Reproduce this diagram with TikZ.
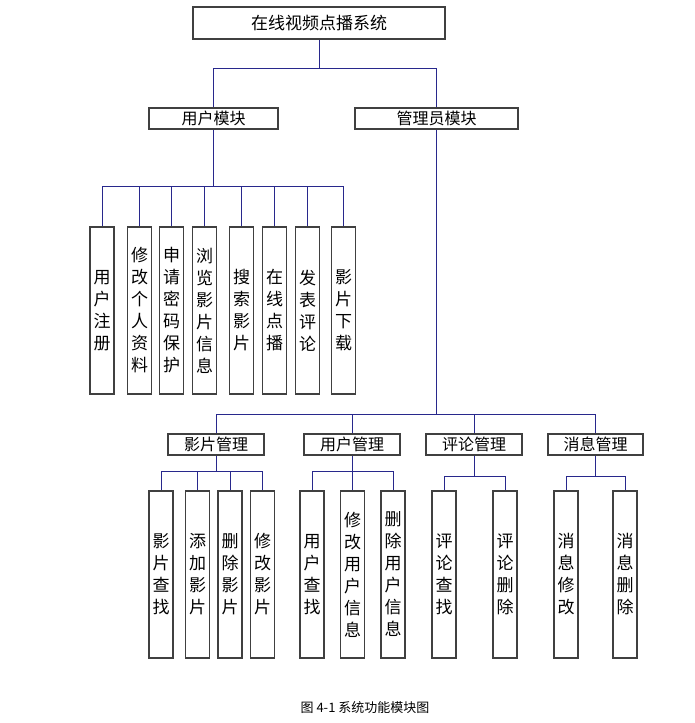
\documentclass[tikz,border=0pt]{standalone}
\usepackage{fontspec}
\setmainfont{Noto Sans CJK SC}
\usepackage{tikz}

\begin{document}
\begin{tikzpicture}[x=1pt,y=-1pt,
	box/.style={draw=black!75, line width=1.3pt, inner sep=0pt},
	modbox/.style={box, minimum height=21pt, font=\fontsize{16}{18}\selectfont},
	leaf/.style={box, minimum width=24pt, minimum height=167pt, align=center, font=\fontsize{17}{22}\selectfont},
	link/.style={draw={rgb,255:red,40;green,40;blue,140}, line width=1pt}]
	\useasboundingbox (0,0) rectangle (695,723);
	\node[box, minimum width=252pt, minimum height=32pt, font=\fontsize{17}{19}\selectfont] (sys) at (319,23) {在线视频点播系统};
	\node[modbox, minimum width=129pt] (user) at (213.5,118.5) {用户模块};
	\node[modbox, minimum width=163pt] (admin) at (436.5,118.5) {管理员模块};
	% user leaves
	\node[leaf] (u1) at (102,310.5) {用\\户\\注\\册};
	\node[leaf] (u2) at (139.5,310.5) {修\\改\\个\\人\\资\\料};
	\node[leaf] (u3) at (171.5,310.5) {申\\请\\密\\码\\保\\护};
	\node[leaf] (u4) at (204.5,310.5) {浏\\览\\影\\片\\信\\息};
	\node[leaf] (u5) at (241.5,310.5) {搜\\索\\影\\片};
	\node[leaf] (u6) at (274.5,310.5) {在\\线\\点\\播};
	\node[leaf] (u7) at (307.5,310.5) {发\\表\\评\\论};
	\node[leaf] (u8) at (343.5,310.5) {影\\片\\下\\载};
	% admin modules
	\node[modbox, minimum width=96pt] (film) at (216,444.5) {影片管理};
	\node[modbox, minimum width=96pt] (uman) at (352,444.5) {用户管理};
	\node[modbox, minimum width=96pt] (cman) at (474,444.5) {评论管理};
	\node[modbox, minimum width=95pt] (mman) at (595.5,444.5) {消息管理};
	% admin leaves
	\node[leaf] (f1) at (161,574.5) {影\\片\\查\\找};
	\node[leaf] (f2) at (197.5,574.5) {添\\加\\影\\片};
	\node[leaf] (f3) at (230,574.5) {删\\除\\影\\片};
	\node[leaf] (f4) at (262.5,574.5) {修\\改\\影\\片};
	\node[leaf] (m1) at (312,574.5) {用\\户\\查\\找};
	\node[leaf] (m2) at (352.5,574.5) {修\\改\\用\\户\\信\\息};
	\node[leaf] (m3) at (393,574.5) {删\\除\\用\\户\\信\\息};
	\node[leaf] (c1) at (444,574.5) {评\\论\\查\\找};
	\node[leaf] (c2) at (505,574.5) {评\\论\\删\\除};
	\node[leaf] (n1) at (566,574.5) {消\\息\\修\\改};
	\node[leaf] (n2) at (625,574.5) {消\\息\\删\\除};
	\node[font=\fontsize{13}{15}\selectfont] (cap) at (365,708) {图 4-1 系统功能模块图};
	% buses
	\coordinate (b0) at (0,68);
	\coordinate (b1) at (0,186);
	\coordinate (b2) at (0,414);
	\coordinate (b3) at (0,471);
	\coordinate (b4) at (0,476);
	% top level
	\draw[link] (sys.south) -- (sys.south |- b0);
	\draw[link] (user.north |- b0) -- (admin.north |- b0);
	\foreach \n in {user,admin} \draw[link] (\n.north) -- (\n.north |- b0);
	% user module
	\draw[link] (user.south) -- (user.south |- b1);
	\draw[link] (u1.north |- b1) -- (u8.north |- b1);
	\foreach \n in {u1,u2,u3,u4,u5,u6,u7,u8} \draw[link] (\n.north) -- (\n.north |- b1);
	% admin module
	\draw[link] (admin.south) -- (admin.south |- b2);
	\draw[link] (film.north |- b2) -- (mman.north |- b2);
	\foreach \n in {film,uman,cman,mman} \draw[link] (\n.north) -- (\n.north |- b2);
	% film
	\draw[link] (film.south) -- (film.south |- b3);
	\draw[link] (f1.north |- b3) -- (f4.north |- b3);
	\foreach \n in {f1,f2,f3,f4} \draw[link] (\n.north) -- (\n.north |- b3);
	% user management
	\draw[link] (uman.south) -- (uman.south |- b3);
	\draw[link] (m1.north |- b3) -- (m3.north |- b3);
	\foreach \n in {m1,m2,m3} \draw[link] (\n.north) -- (\n.north |- b3);
	% comments
	\draw[link] (cman.south) -- (cman.south |- b4);
	\draw[link] (c1.north |- b4) -- (c2.north |- b4);
	\foreach \n in {c1,c2} \draw[link] (\n.north) -- (\n.north |- b4);
	% messages
	\draw[link] (mman.south) -- (mman.south |- b4);
	\draw[link] (n1.north |- b4) -- (n2.north |- b4);
	\foreach \n in {n1,n2} \draw[link] (\n.north) -- (\n.north |- b4);
\end{tikzpicture}
\end{document}
